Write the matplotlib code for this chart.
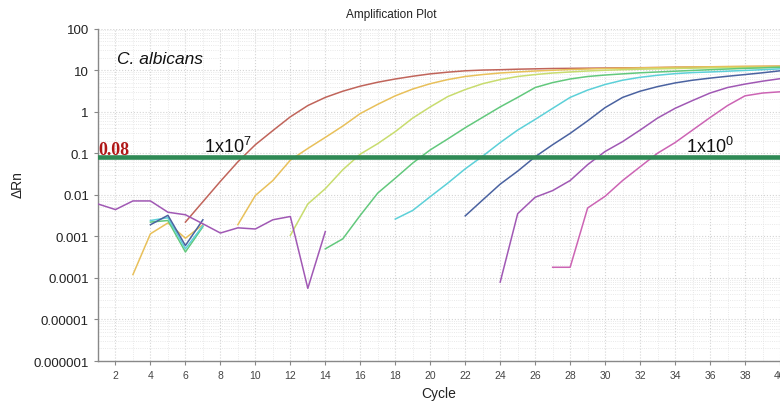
import numpy as np
import matplotlib
matplotlib.use('Agg')
import matplotlib.pyplot as plt

nan = np.nan
cycles = np.arange(1, 41)

# delta Rn per cycle (1..40), nan where the trace is not shown on the log scale
s_1e7 = [nan, nan, nan, nan, nan, 0.0022, 0.0068, 0.021, 0.062, 0.16,
         0.35, 0.75, 1.4, 2.2, 3.1, 4.1, 5.1, 6.1, 7.1, 8.1,
         8.9, 9.6, 10.0, 10.2, 10.5, 10.7, 10.9, 11.0, 11.1, 11.2,
         11.3, 11.4, 11.5, 11.7, 11.8, 11.9, 12.0, 12.1, 12.2, 12.3]
s_1e6 = [nan, nan, 0.00012, 0.00115, 0.0021, 0.0009, 0.0019, nan, 0.0019, 0.0096,
         0.022, 0.068, 0.13, 0.24, 0.45, 0.9, 1.5, 2.4, 3.5, 4.7,
         5.9, 7.0, 7.8, 8.5, 9.0, 9.5, 9.9, 10.3, 10.6, 10.9,
         11.1, 11.3, 11.5, 11.7, 11.9, 12.0, 12.2, 12.3, 12.4, 12.5]
s_1e5 = [nan, nan, nan, nan, nan, nan, nan, nan, nan, nan,
         nan, 0.00105, 0.006, 0.014, 0.04, 0.095, 0.17, 0.33, 0.7, 1.3,
         2.3, 3.4, 4.7, 5.9, 7.0, 7.8, 8.5, 9.0, 9.5, 9.9,
         10.2, 10.5, 10.7, 10.9, 11.1, 11.3, 11.4, 11.5, 11.6, 11.7]
s_1e4 = [nan, nan, nan, 0.0022, 0.0024, 0.00042, 0.0017, nan, nan, nan,
         nan, nan, nan, 0.0005, 0.00087, 0.0032, 0.011, 0.025, 0.058, 0.12,
         0.22, 0.41, 0.73, 1.3, 2.2, 3.8, 5.0, 6.1, 7.0, 7.6,
         8.1, 8.6, 9.0, 9.4, 9.8, 10.2, 10.6, 11.0, 11.3, 11.7]
s_1e3 = [nan, nan, nan, 0.0024, 0.0028, 0.0005, 0.0018, nan, nan, nan,
         nan, nan, nan, nan, nan, nan, nan, 0.0026, 0.0042, 0.009,
         0.019, 0.042, 0.085, 0.18, 0.36, 0.65, 1.2, 2.2, 3.3, 4.5,
         5.7, 6.7, 7.5, 8.2, 8.7, 9.0, 9.4, 9.8, 10.2, 10.7]
s_1e2 = [nan, nan, nan, 0.0019, 0.0032, 0.0006, 0.0025, nan, nan, nan,
         nan, nan, nan, nan, nan, nan, nan, nan, nan, nan,
         nan, 0.0031, 0.0075, 0.018, 0.037, 0.082, 0.16, 0.3, 0.6, 1.25,
         2.2, 3.1, 4.0, 4.9, 5.7, 6.4, 7.1, 7.8, 8.6, 9.6]
s_1e1 = [0.006, 0.0044, 0.0071, 0.0071, 0.0038, 0.0033, 0.002, 0.0012, 0.0016, 0.0015,
         0.0025, 0.003, 0.000056, 0.0013, nan, nan, nan, nan, nan, nan,
         nan, nan, nan, 0.000079, 0.0035, 0.0087, 0.0126, 0.022, 0.053, 0.11,
         0.19, 0.36, 0.7, 1.2, 1.85, 2.8, 3.8, 4.6, 5.4, 6.2]
s_1e0 = [nan, nan, nan, nan, nan, nan, nan, nan, nan, nan,
         nan, nan, nan, nan, nan, nan, nan, nan, nan, nan,
         nan, nan, nan, nan, nan, nan, 0.00018, 0.00018, 0.0048, 0.0092,
         0.022, 0.047, 0.1, 0.18, 0.36, 0.72, 1.4, 2.4, 2.8, 3.0]

series = [s_1e7, s_1e6, s_1e5, s_1e4, s_1e3, s_1e2, s_1e1, s_1e0]
colors = ['#c0645a', '#e8c05a', '#c8dc6e', '#62c87c', '#5cd0d8', '#4a62a0', '#a058b4', '#cc64b4']
threshold = 0.08

ytick_vals = [100, 10, 1, 0.1, 0.01, 0.001, 0.0001, 0.00001, 0.000001]
ytick_labels = ['100', '10', '1', '0.1', '0.01', '0.001', '0.0001', '0.00001', '0.000001']
xtick_vals = list(range(2, 41, 2))

plt.rcParams['font.family'] = ['Liberation Sans', 'DejaVu Sans']
plt.rcParams['mathtext.fontset'] = 'custom'
plt.rcParams['mathtext.rm'] = 'Liberation Sans'

fig = plt.figure(figsize=(7.8, 4.02), dpi=100)
ax = fig.add_axes([0.1256, 0.0995, 0.8744, 0.8271])

ax.set_yscale('log')
ax.set_xlim(1, 40)
ax.set_ylim(0.000001, 100)

ax.set_xticks(xtick_vals)
ax.set_xticks(range(1, 41), minor=True)
ax.set_yticks(ytick_vals)
ax.set_yticklabels(ytick_labels)
ax.tick_params(axis='y', which='major', labelsize=9.5, length=3, color='#888888', labelcolor='#222222')
ax.tick_params(axis='x', which='major', labelsize=7.5, length=3, color='#888888', labelcolor='#444444')
ax.tick_params(which='minor', length=0)
ax.tick_params(axis='y', which='minor', labelleft=False)

ax.grid(True, which='major', color='#d4d4d4', linestyle=':', linewidth=0.8)
ax.grid(True, which='minor', color='#e2e2e2', linestyle=':', linewidth=0.6)
ax.set_axisbelow(True)

for sp in ['top', 'right']:
    ax.spines[sp].set_visible(False)
for sp in ['left', 'bottom']:
    ax.spines[sp].set_color('#888888')
    ax.spines[sp].set_linewidth(1.0)

for vals, c in zip(series, colors):
    ax.plot(cycles, np.array(vals, dtype=float), color=c, linewidth=1.1, zorder=3)

ax.text(1.05, threshold * 0.97, '0.08', color='#b01818', fontsize=13, fontweight='bold',
        family=['Liberation Serif'], ha='left', va='bottom', zorder=4)
ax.axhline(threshold, color='#2f8a55', linewidth=3.3, zorder=5)

ax.text(7.05, 0.107, '1x10$^{7}$', fontsize=13, color='#111111', ha='left', va='baseline', zorder=6)
ax.text(34.65, 0.107, '1x10$^{0}$', fontsize=13, color='#111111', ha='left', va='baseline', zorder=6)
ax.text(2.1, 18.5, 'C. albicans', fontsize=12.5, style='italic', color='#111111', ha='left', va='center')

ax.set_xlabel('Cycle', fontsize=10, color='#222222', labelpad=4)
fig.text(0.023, 0.54, 'ΔRn', rotation=90, fontsize=10, color='#222222', ha='center', va='center')
fig.text(0.502, 0.963, 'Amplification Plot', fontsize=8.5, color='#222222', ha='center', va='center')

fig.savefig('out.png', dpi=100)
